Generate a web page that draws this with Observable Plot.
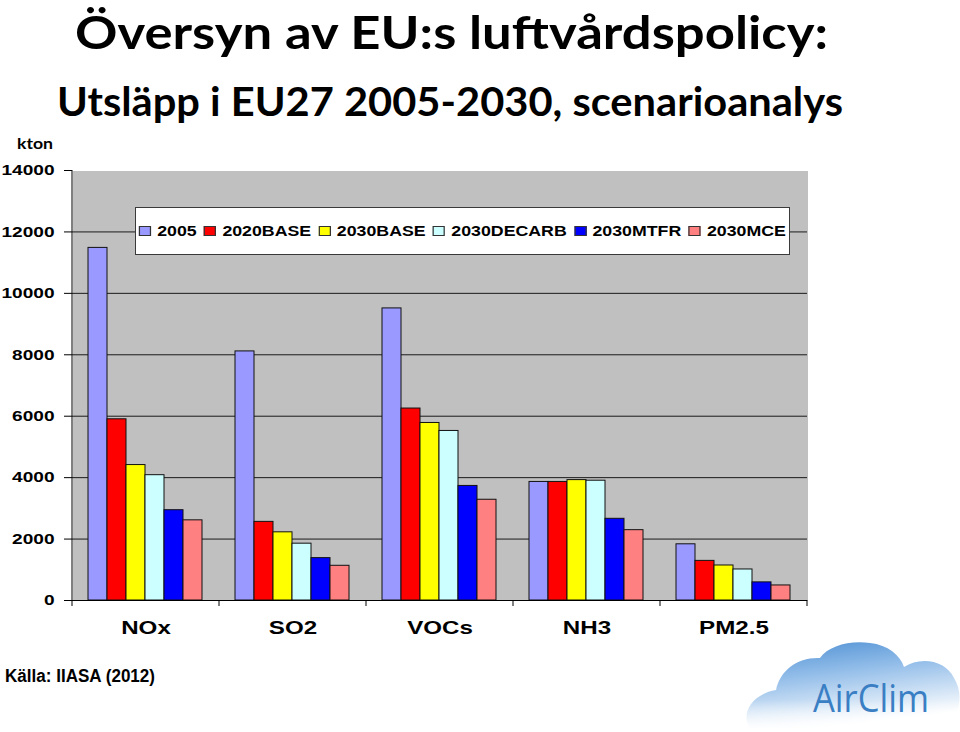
<!DOCTYPE html>
<html>
<head>
<meta charset="utf-8">
<script src="https://cdn.jsdelivr.net/npm/d3@7"></script>
<script src="https://cdn.jsdelivr.net/npm/@observablehq/plot@0.6"></script>
<style>
  html, body { margin: 0; padding: 0; background: #fff; }
  #wrap { position: relative; width: 960px; height: 732px; overflow: hidden; }
  #chart { position: absolute; left: 0; top: 0; }
  #overlay { position: absolute; left: 0; top: 0; pointer-events: none; }
  #legend {
    position: absolute; left: 135px; top: 207px; width: 653px; height: 46px;
    background: #fff; border: 1px solid #3a3a3a;
    display: flex; align-items: center; justify-content: center; overflow: visible;
  }
  #legend > div { flex: none; }
  #legend div {
    font: bold 14.5px "Liberation Sans", Arial, sans-serif !important;
    color: #000; margin: 0 !important; min-height: 0 !important;
    flex-wrap: nowrap !important; white-space: nowrap;
  }
  #legend span { margin-right: 6px !important; display: inline-flex !important; align-items: center; }
  #legend span:last-child { margin-right: 0 !important; }
  #legend svg { margin-right: 5px !important; outline: 1px solid #333; outline-offset: -1px; }
</style>
</head>
<body>
<div id="wrap">
  <div id="chart"></div>
  <div id="legend"></div>
  <svg id="overlay" width="960" height="732"></svg>
</div>
<script>
// ---- data ----
const categories = ["NOx", "SO2", "VOCs", "NH3", "PM2.5"];
const series = ["2005", "2020BASE", "2030BASE", "2030DECARB", "2030MTFR", "2030MCE"];
const colors = ["#9999ff", "#ff0000", "#ffff00", "#ccffff", "#0000ff", "#ff8080"];
const v2005       = [11480, 8110, 9510, 3860, 1830];
const v2020BASE   = [5900, 2560, 6250, 3860, 1290];
const v2030BASE   = [4410, 2220, 5780, 3920, 1140];
const v2030DECARB = [4080, 1850, 5520, 3900, 1010];
const v2030MTFR   = [2940, 1380, 3730, 2660, 590];
const v2030MCE    = [2610, 1130, 3280, 2290, 490];
const yTicks = [0, 2000, 4000, 6000, 8000, 10000, 12000, 14000];
const titleText = "Översyn av EU:s luftvårdspolicy:";
const subtitleText = "Utsläpp i EU27 2005-2030, scenarioanalys";
const unitText = "kton";
const sourceText = "Källa: IIASA (2012)";
const logoText = "AirClim";

const seriesValues = [v2005, v2020BASE, v2030BASE, v2030DECARB, v2030MTFR, v2030MCE];
const data = series.flatMap((s, i) => categories.map((c, j) => ({cat: c, series: s, value: seriesValues[i][j]})));

const chart = Plot.plot({
  width: 960, height: 732,
  marginTop: 170, marginBottom: 132, marginLeft: 72, marginRight: 153,
  style: {fontFamily: "'Liberation Sans', Arial, sans-serif", background: "transparent", color: "#000", overflow: "visible"},
  fx: {domain: categories, padding: 0, label: null},
  x: {domain: series, paddingInner: 0, paddingOuter: 0.73, align: 0.47, axis: null},
  y: {domain: [0, 14000], label: null},
  color: {domain: series, range: colors},
  marks: [
    Plot.frame({fill: "#c0c0c0", shapeRendering: "crispEdges", insetRight: -0.5}),
    Plot.ruleY(yTicks.filter(d => d > 0 && d < 14000), {stroke: "#1a1a1a", strokeWidth: 1}),
    Plot.barY(data, {fx: "cat", x: "series", y: "value", fill: "series", stroke: "#111", strokeWidth: 1}),
    Plot.ruleY([0], {stroke: "#000", strokeWidth: 1}),
    Plot.axisY({ticks: yTicks, tickSize: 8, tickPadding: 10, fontSize: 15, fontWeight: "bold", label: null, tickFormat: d => String(d)}),
    Plot.axisFx({anchor: "bottom", tickSize: 0, tickPadding: 20, fontSize: 19, fontWeight: "bold", label: null})
  ]
});
document.getElementById("chart").appendChild(chart);

// horizontally stretched axis text (as in the reference)
chart.querySelectorAll("text").forEach(t => {
  const w = t.getComputedTextLength();
  if (w > 0) { t.setAttribute("textLength", (w * 1.27).toFixed(1)); t.setAttribute("lengthAdjust", "spacingAndGlyphs"); }
});

// axis line and category boundary ticks, from the plot's own scales
const fxs = chart.scale("fx"), ys = chart.scale("y");
const y0 = ys.apply(0), yTop = ys.apply(14000);
const edges = categories.map(c => fxs.apply(c)).concat([fxs.apply(categories[categories.length - 1]) + fxs.bandwidth]);
const g = d3.select(chart).append("g").attr("stroke", "#000").attr("stroke-width", 1);
g.append("line").attr("x1", edges[0]).attr("x2", edges[0]).attr("y1", yTop).attr("y2", y0);
g.selectAll("line.edge").data(edges).join("line").attr("class", "edge")
  .attr("x1", d => d).attr("x2", d => d).attr("y1", y0).attr("y2", y0 + 6);

// legend
const legBox = document.getElementById("legend");
try {
  const leg = chart.legend("color", {legend: "swatches", swatchSize: 10, className: "lg"});
  legBox.appendChild(leg);
  const lw = leg.getBoundingClientRect().width;
  leg.style.transformOrigin = "center center";
  leg.style.transform = `scaleX(${647 / lw})`;
} catch (e) { console.error(e); }

// overlay: titles, unit, source, logo
const ov = d3.select("#overlay");
const defs = ov.append("defs");
const grad = defs.append("linearGradient").attr("id", "cloudGrad").attr("x1", 0).attr("y1", 0).attr("x2", 0.3).attr("y2", 1);
grad.append("stop").attr("offset", "0%").attr("stop-color", "#4a8dd2");
grad.append("stop").attr("offset", "40%").attr("stop-color", "#8fbbe8");
grad.append("stop").attr("offset", "100%").attr("stop-color", "#ffffff");
const cloud = ov.append("g").attr("fill", "url(#cloudGrad)");
const cloudPath = "M750,728 C740,714 752,694 776,690 C780,670 798,657 820,658 C828,646 850,640 870,643 C888,645 900,655 904,667 C920,656 946,660 954,678 C964,694 960,716 946,730 Z";
cloud.append("path").attr("d", cloudPath);
const fade = defs.append("linearGradient").attr("id", "fadeGrad").attr("x1", 0).attr("y1", 0).attr("x2", 0).attr("y2", 1);
fade.append("stop").attr("offset", "0%").attr("stop-color", "#fff").attr("stop-opacity", 0);
fade.append("stop").attr("offset", "100%").attr("stop-color", "#fff").attr("stop-opacity", 1);
ov.append("rect").attr("x", 740).attr("y", 700).attr("width", 220).attr("height", 32).attr("fill", "url(#fadeGrad)");

function fitText(sel, len) { sel.attr("textLength", len).attr("lengthAdjust", "spacingAndGlyphs"); return sel; }
fitText(ov.append("text").attr("x", 75).attr("y", 49).attr("font-family", "Lato, 'Open Sans', sans-serif").attr("font-weight", 700).attr("font-size", 46).text(titleText), 753);
fitText(ov.append("text").attr("x", 57).attr("y", 116).attr("font-family", "Lato, 'Open Sans', sans-serif").attr("font-weight", 700).attr("font-size", 41).text(subtitleText), 786);
fitText(ov.append("text").attr("x", 17).attr("y", 149).attr("font-family", "Lato, 'Open Sans', sans-serif").attr("font-weight", 700).attr("font-size", 16).text(unitText), 36);
fitText(ov.append("text").attr("x", 5).attr("y", 682).attr("font-family", "'Liberation Sans', Arial, sans-serif").attr("font-weight", 700).attr("font-size", 18).text(sourceText), 150);
fitText(ov.append("text").attr("x", 813).attr("y", 712).attr("font-family", "'Open Sans', sans-serif").attr("font-weight", 400).attr("font-size", 38).attr("fill", "#3a7fc4").text(logoText), 116);
</script>
</body>
</html>
